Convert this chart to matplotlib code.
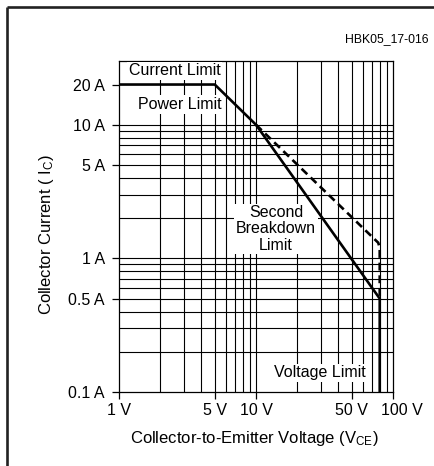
import matplotlib
matplotlib.use("Agg")
import matplotlib.pyplot as plt
from matplotlib.lines import Line2D
from matplotlib.ticker import NullFormatter
from matplotlib.transforms import ScaledTranslation

plt.rcParams['font.family'] = ['Liberation Sans', 'DejaVu Sans']
plt.rcParams['mathtext.fontset'] = 'custom'
plt.rcParams['mathtext.rm'] = 'Liberation Sans'
plt.rcParams['mathtext.it'] = 'Liberation Sans'

# ---- data ----
soa_v = [1, 5, 10, 80, 80]
soa_i = [20, 20, 10, 0.5, 0.1]
ext_v = [10, 74, 78, 80, 80]
ext_i = [10, 1.38, 1.31, 1.2, 0.5]

x_ticks = [1, 5, 10, 50, 100]
x_ticklabels = ['1 V', '5 V', '10 V', '50 V', '100 V']
y_ticks = [0.1, 0.5, 1, 5, 10, 20]
y_ticklabels = ['0.1 A', '0.5 A', '1 A', '5 A', '10 A', '20 A']
x_grid = [2, 3, 4, 5, 6, 7, 8, 9, 10, 20, 30, 40, 50, 60, 70, 80, 90]
y_grid = [0.2, 0.3, 0.4, 0.5, 0.6, 0.7, 0.8, 0.9, 1, 2, 3, 4, 5, 6, 7, 8, 9, 10]

W, H = 435, 466
fig = plt.figure(figsize=(W / 100, H / 100), dpi=100)
ax = fig.add_axes([119 / W, 74 / H, 274 / W, 331 / H])
ax.set_xscale('log')
ax.set_yscale('log')
ax.set_xlim(1, 100)
ax.set_ylim(0.1, 30)

ax.set_xticks(x_ticks)
ax.set_xticklabels(x_ticklabels)
ax.set_yticks(y_ticks)
ax.set_yticklabels(y_ticklabels)
ax.set_xticks(x_grid, minor=True)
ax.set_yticks(y_grid, minor=True)
ax.xaxis.set_minor_formatter(NullFormatter())
ax.yaxis.set_minor_formatter(NullFormatter())
ax.xaxis.remove_overlapping_locs = False
ax.yaxis.remove_overlapping_locs = False
ax.tick_params(which='minor', length=0)
ax.tick_params(which='major', length=4.8, width=0.9, direction='out',
               labelsize=11.5, colors='black')
ax.tick_params(axis='x', which='major', pad=3)
ax.tick_params(axis='y', which='major', pad=5.5)
ax.grid(which='minor', color='black', linewidth=0.8)
ax.grid(which='major', visible=False)
ax.set_axisbelow(True)
for s in ax.spines.values():
    s.set_linewidth(0.9)
    s.set_color('black')

ax.plot(soa_v, soa_i, color='black', linewidth=1.9, solid_joinstyle='miter', zorder=5)
ax.plot(ext_v, ext_i, color='black', linewidth=1.9, linestyle=(0, (3.0, 1.8)), zorder=5)

bbox = dict(facecolor='white', edgecolor='none', pad=1.2)
fs = 11.5
ax.text(2.56, 25.3, 'Current Limit', ha='center', va='center', fontsize=fs, bbox=bbox, zorder=4)
ax.text(2.79, 14.2, 'Power Limit', ha='center', va='center', fontsize=fs, bbox=bbox, zorder=4)
ax.text(14.0, 1.66, 'Second\nBreakdown\nLimit', ha='center', va='center', fontsize=fs,
        linespacing=1.1, bbox=bbox, zorder=4)
ax.text(29.3, 0.139, 'Voltage Limit', ha='center', va='center', fontsize=fs, bbox=bbox, zorder=4)

# shift the last x tick label right as in the reference
fig.canvas.draw()
lbl = ax.get_xticklabels()[-1]
lbl.set_transform(lbl.get_transform() + ScaledTranslation(9 / 100, 0, fig.dpi_scale_trans))

fig.text(254 / W, 1 - 438 / H, r'Collector-to-Emitter Voltage (V$_{\mathrm{CE}}$)',
         ha='center', va='center', fontsize=12)
fig.text(47 / W, 1 - 235 / H, r'Collector Current ( I$_{\mathrm{C}}$)',
         ha='center', va='center', fontsize=12, rotation=90)
fig.text(429 / W, 1 - 39 / H, 'HBK05_17-016', ha='right', va='center', fontsize=8.8)

# frame (left and top)
fig.add_artist(Line2D([7 / W, 7 / W], [0, 1 - 7 / H], transform=fig.transFigure,
                      color='#222222', linewidth=1.9, solid_capstyle='butt'))
fig.add_artist(Line2D([7 / W, 1], [1 - 7 / H, 1 - 7 / H], transform=fig.transFigure,
                      color='#222222', linewidth=1.9, solid_capstyle='butt'))

fig.savefig('out.png', dpi=100)
